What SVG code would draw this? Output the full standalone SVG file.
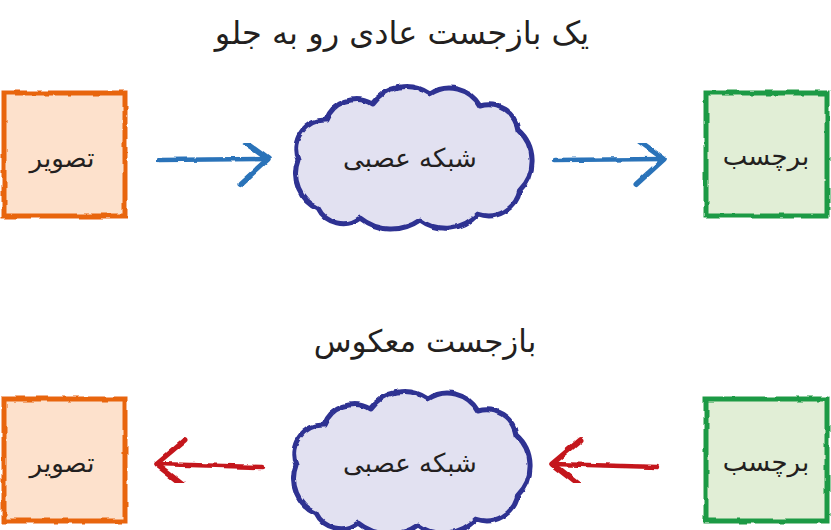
<svg xmlns="http://www.w3.org/2000/svg" width="831" height="530" viewBox="0 0 831 530">
<style>
.lbl{font-family:"DejaVu Sans","Noto Sans",sans-serif;fill:#231f20;text-anchor:middle;direction:rtl}
.ttl{font-size:32px}
.ttl2{font-size:31px}
.nl{font-size:26px}
.img rect{fill:#fde1cc;stroke:#e8650f;stroke-width:5}
.lab rect{fill:#e1eed6;stroke:#1f9a45;stroke-width:5}
.cloud use{fill:#e2e1f1;stroke:#2e3192;stroke-width:5;stroke-linejoin:round}
.fw{stroke:#2a73b9;stroke-width:4.5;fill:none;stroke-linecap:round}
.bw{stroke:#c4161c;stroke-width:4.5;fill:none;stroke-linecap:round}
</style>
<defs>
<filter id="rough" x="-5%" y="-5%" width="110%" height="110%">
<feTurbulence type="fractalNoise" baseFrequency="0.08" numOctaves="2" seed="3" result="n"/>
<feDisplacementMap in="SourceGraphic" in2="n" scale="3.5" xChannelSelector="R" yChannelSelector="G"/>
</filter>
<marker id="hb" viewBox="-34 -30 40 60" refX="0" refY="0" markerWidth="40" markerHeight="60" markerUnits="userSpaceOnUse" orient="auto">
<path d="M-30 -22 L0 0 L-28 25" fill="none" stroke="#2a73b9" stroke-width="5.5" stroke-linecap="round" stroke-linejoin="round"/>
</marker>
<marker id="hr" viewBox="-34 -30 40 60" refX="0" refY="0" markerWidth="40" markerHeight="60" markerUnits="userSpaceOnUse" orient="auto">
<path d="M-30 -22 L0 0 L-28 25" fill="none" stroke="#c4161c" stroke-width="5.5" stroke-linecap="round" stroke-linejoin="round"/>
</marker>
<path id="cl" d="M318 208 A38 38 0 0 1 298 160 A29 29 0 0 1 326 120 A32 32 0 0 1 372 104 A42 42 0 0 1 430 94 A35 35 0 0 1 480 106 A30 30 0 0 1 518 130 A41 41 0 0 1 520 190 A32 32 0 0 1 478 214 A44 44 0 0 1 420 220 A50 50 0 0 1 360 218 A28 28 0 0 1 318 208 Z"/>
</defs>

<text class="lbl ttl" x="402" y="44">یک بازجست عادی رو به جلو</text>
<text class="lbl ttl2" x="425" y="352">بازجست معکوس</text>

<g id="image-top" class="img">
<rect x="4" y="93" width="121" height="123" filter="url(#rough)"/>
<text class="lbl nl" x="62" y="167">تصویر</text>
</g>
<g id="net-top" class="cloud">
<use href="#cl" filter="url(#rough)"/>
<text class="lbl nl" x="410" y="167">شبکه عصبی</text>
</g>
<g id="label-top" class="lab">
<rect x="706" y="93" width="121" height="123" filter="url(#rough)"/>
<text class="lbl nl" x="766" y="165">برچسب</text>
</g>

<g id="image-bottom" class="img">
<rect x="4" y="399" width="121" height="122" filter="url(#rough)"/>
<text class="lbl nl" x="62" y="472">تصویر</text>
</g>
<g id="net-bottom" class="cloud">
<use href="#cl" transform="translate(-2 305)" filter="url(#rough)"/>
<text class="lbl nl" x="410" y="472">شبکه عصبی</text>
</g>
<g id="label-bottom" class="lab">
<rect x="706" y="399" width="121" height="122" filter="url(#rough)"/>
<text class="lbl nl" x="766" y="471">برچسب</text>
</g>

<g id="connectors" filter="url(#rough)">
<path class="fw" d="M159 160 L268 159" marker-end="url(#hb)"/>
<path class="fw" d="M554 160 L664 159" marker-end="url(#hb)"/>
<path class="bw" d="M262 467 L156 464" marker-end="url(#hr)"/>
<path class="bw" d="M658 467 L552 464" marker-end="url(#hr)"/>
</g>
</svg>
